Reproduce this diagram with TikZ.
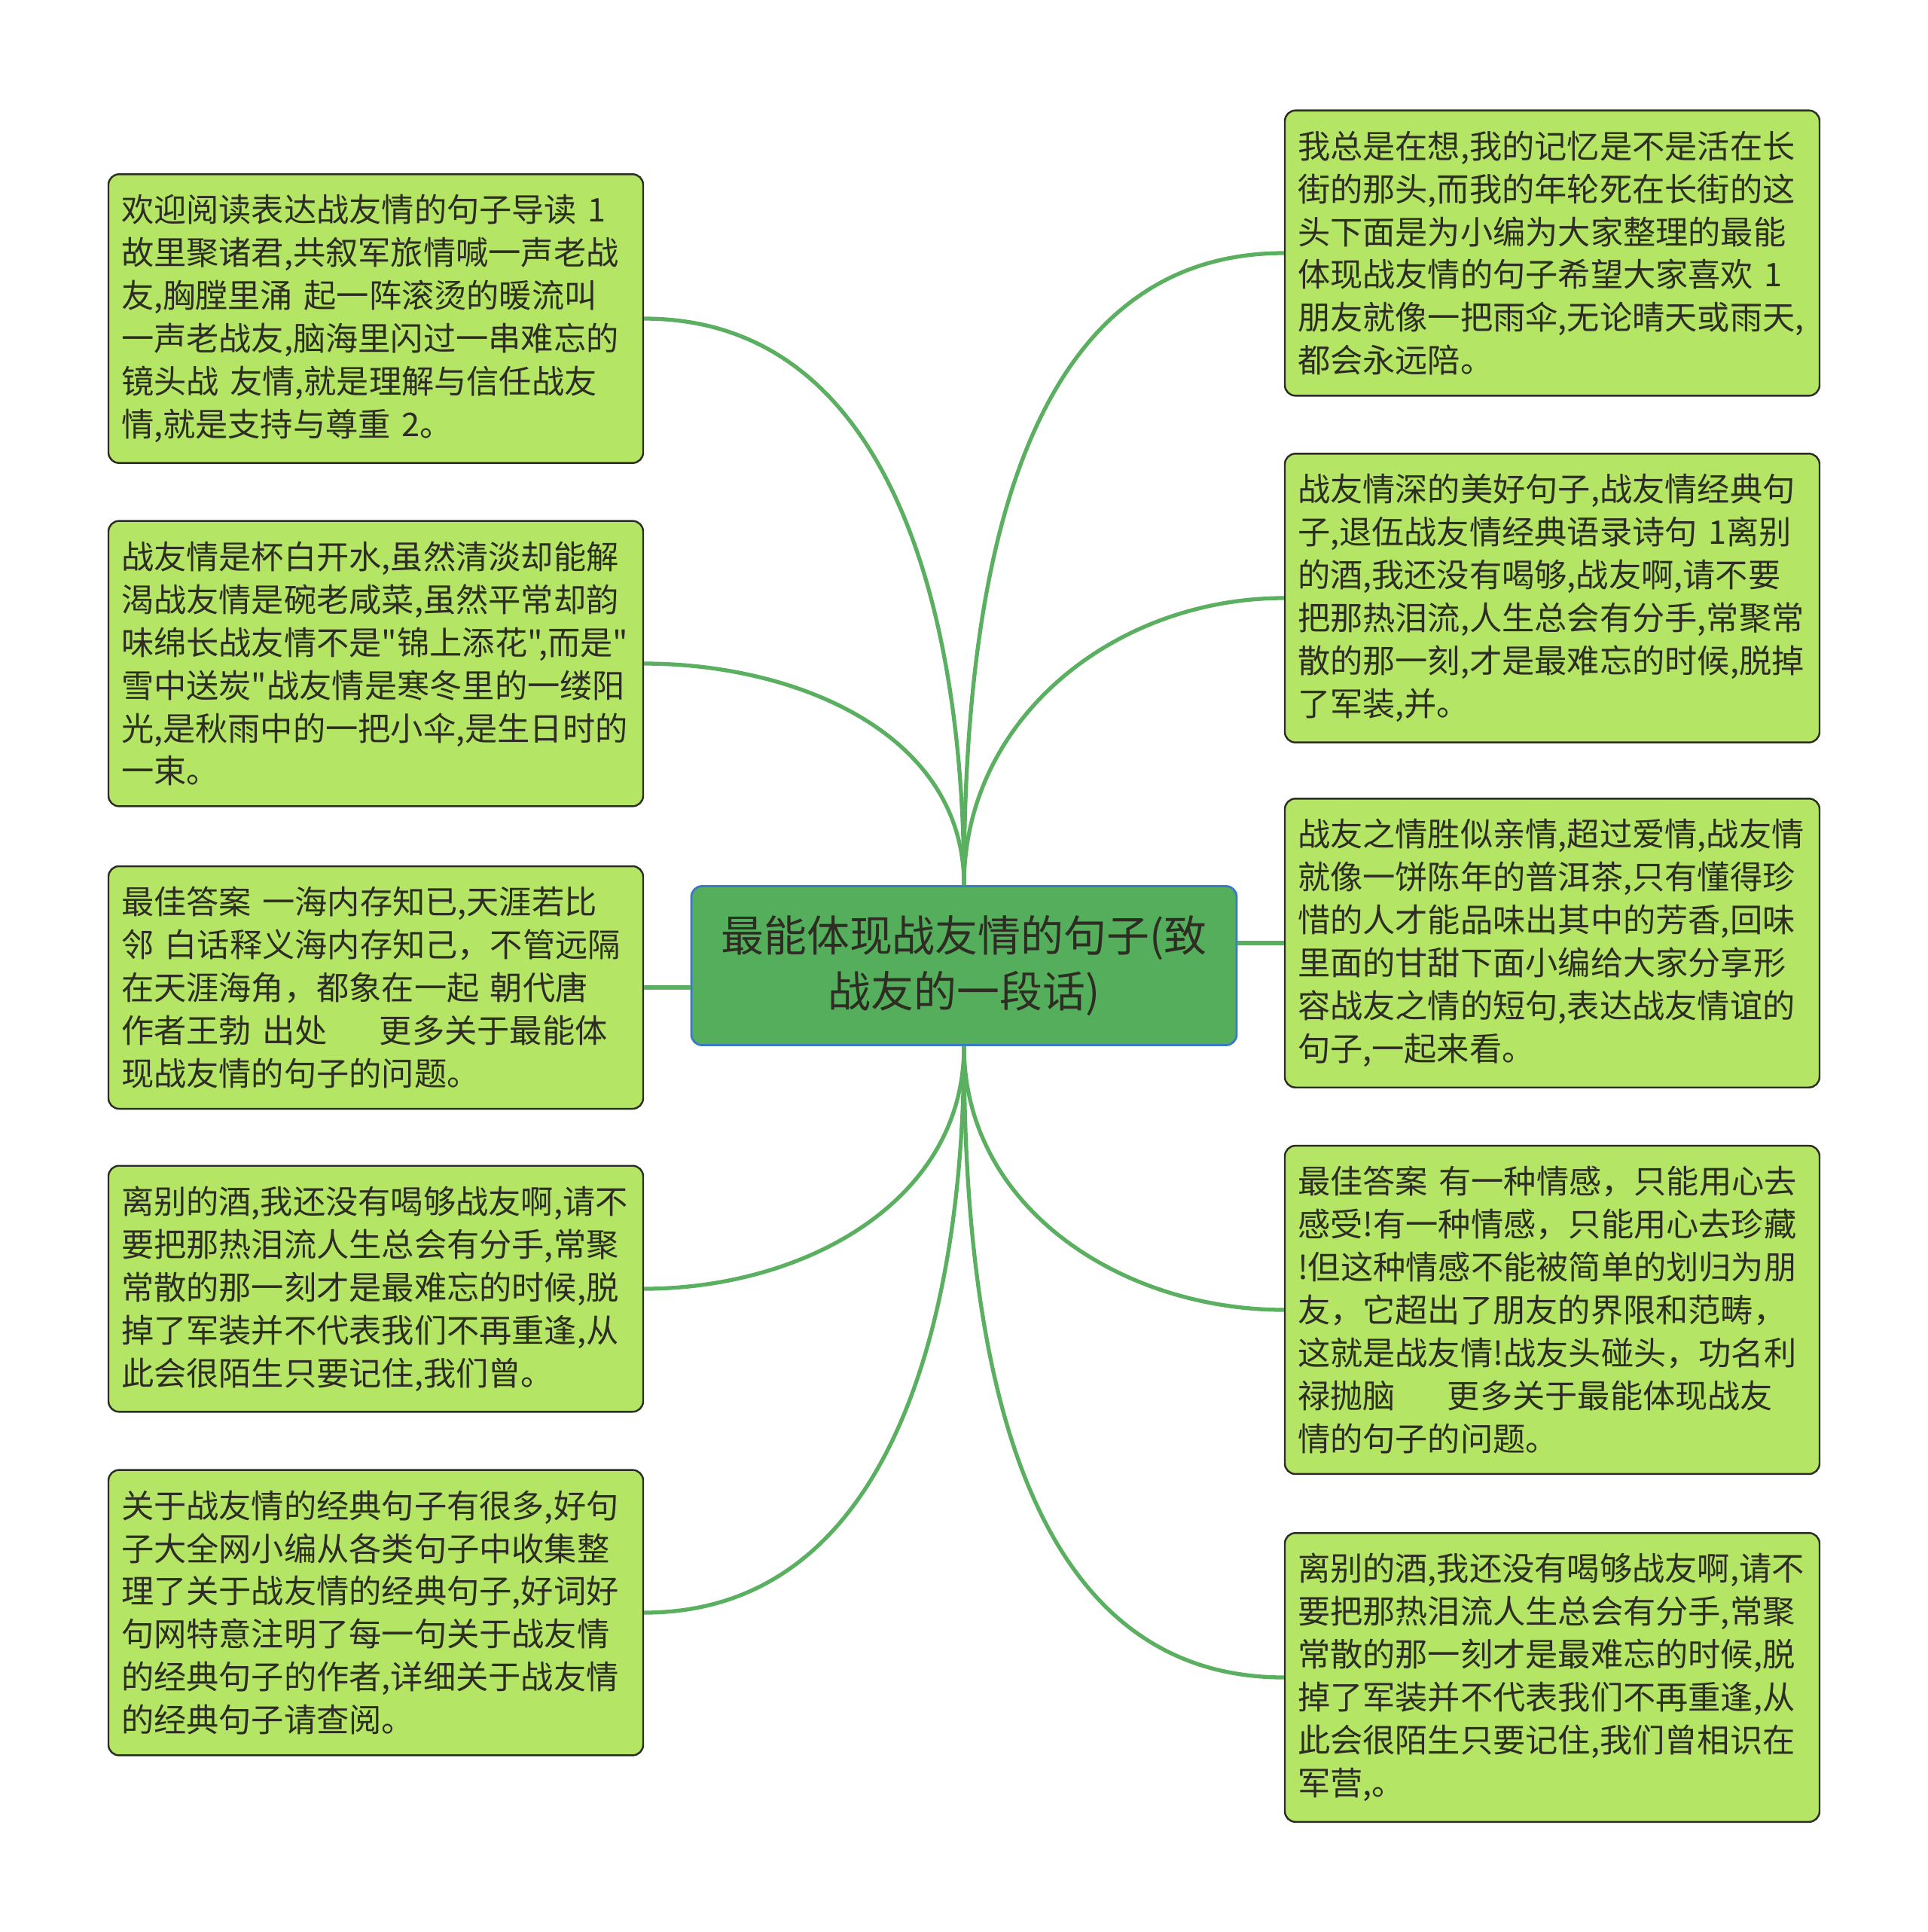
\documentclass[tikz,border=0pt]{standalone}
\usepackage{fontspec}
\newfontfamily\cjk{Noto Sans CJK SC}
\usepackage{xcolor}
\definecolor{mgreen}{RGB}{84,174,92}
\definecolor{mlime}{RGB}{180,229,100}
\definecolor{mline}{RGB}{90,176,96}
\definecolor{medge}{RGB}{60,120,200}
\definecolor{mink}{RGB}{45,45,35}

\begin{document}
\begin{tikzpicture}[
  root/.style={rectangle,rounded corners=4pt,draw=medge,line width=0.8pt,fill=mgreen,
               text=mink,font=\cjk\fontsize{16.2}{21.3}\selectfont,
               minimum width=7.24cm,minimum height=2.11cm,align=center},
  leaf/.style={rectangle,rounded corners=4pt,draw=mink,line width=0.7pt,fill=mlime,
               text=mink,font=\cjk\fontsize{12.3}{16.2}\selectfont,
               text width=6.76cm,inner xsep=0.17cm,inner ysep=0.27cm,align=left},
  link/.style={mline,line width=1.5pt}
]
\useasboundingbox (0,0) rectangle (25.6,-25.65);

\node[root] (root) at (12.80,-12.82) {最能体现战友情的句子(致\\战友的一段话)};

% left side
\node[leaf] (l1) at (4.99,-4.23) {欢迎阅读表达战友情的句子导读 1\\
  故里聚诸君,共叙军旅情喊一声老战\\
  友,胸膛里涌 起一阵滚烫的暖流叫\\
  一声老战友,脑海里闪过一串难忘的\\
  镜头战 友情,就是理解与信任战友\\
  情,就是支持与尊重 2。};
\node[leaf] (l2) at (4.99,-8.81) {战友情是杯白开水,虽然清淡却能解\\
  渴战友情是碗老咸菜,虽然平常却韵\\
  味绵长战友情不是"锦上添花",而是"\\
  雪中送炭"战友情是寒冬里的一缕阳\\
  光,是秋雨中的一把小伞,是生日时的\\
  一束。};
\node[leaf] (l3) at (4.99,-13.11) {最佳答案 一海内存知已,天涯若比\\
  邻 白话释义海内存知己，不管远隔\\
  在天涯海角，都象在一起 朝代唐\\
  作者王勃 出处\hspace{1.6em}更多关于最能体\\
  现战友情的句子的问题。};
\node[leaf] (l4) at (4.99,-17.11) {离别的酒,我还没有喝够战友啊,请不\\
  要把那热泪流人生总会有分手,常聚\\
  常散的那一刻才是最难忘的时候,脱\\
  掉了军装并不代表我们不再重逢,从\\
  此会很陌生只要记住,我们曾。};
\node[leaf] (l5) at (4.99,-21.41) {关于战友情的经典句子有很多,好句\\
  子大全网小编从各类句子中收集整\\
  理了关于战友情的经典句子,好词好\\
  句网特意注明了每一句关于战友情\\
  的经典句子的作者,详细关于战友情\\
  的经典句子请查阅。};

% right side
\node[leaf] (r1) at (20.61,-3.36) {我总是在想,我的记忆是不是活在长\\
  街的那头,而我的年轮死在长街的这\\
  头下面是为小编为大家整理的最能\\
  体现战友情的句子希望大家喜欢 1\\
  朋友就像一把雨伞,无论晴天或雨天,\\
  都会永远陪。};
\node[leaf] (r2) at (20.61,-7.94) {战友情深的美好句子,战友情经典句\\
  子,退伍战友情经典语录诗句 1离别\\
  的酒,我还没有喝够,战友啊,请不要\\
  把那热泪流,人生总会有分手,常聚常\\
  散的那一刻,才是最难忘的时候,脱掉\\
  了军装,并。};
\node[leaf] (r3) at (20.61,-12.52) {战友之情胜似亲情,超过爱情,战友情\\
  就像一饼陈年的普洱茶,只有懂得珍\\
  惜的人才能品味出其中的芳香,回味\\
  里面的甘甜下面小编给大家分享形\\
  容战友之情的短句,表达战友情谊的\\
  句子,一起来看。};
\node[leaf] (r4) at (20.61,-17.39) {最佳答案 有一种情感，只能用心去\\
  感受!有一种情感，只能用心去珍藏\\
  !但这种情感不能被简单的划归为朋\\
  友，它超出了朋友的界限和范畴，\\
  这就是战友情!战友头碰头，功名利\\
  禄抛脑\hspace{1.6em}更多关于最能体现战友\\
  情的句子的问题。};
\node[leaf] (r5) at (20.61,-22.27) {离别的酒,我还没有喝够战友啊,请不\\
  要把那热泪流人生总会有分手,常聚\\
  常散的那一刻才是最难忘的时候,脱\\
  掉了军装并不代表我们不再重逢,从\\
  此会很陌生只要记住,我们曾相识在\\
  军营,。};

% connectors
\begin{scope}[on background layer/.try]
\draw[link] (root.north) to[out=90,in=0] (l1.east);
\draw[link] (root.north) to[out=90,in=0] (l2.east);
\draw[link] (l3.east) -- (l3.east -| root.west);
\draw[link] (root.south) to[out=-90,in=0] (l4.east);
\draw[link] (root.south) to[out=-90,in=0] (l5.east);
\draw[link] (root.north) to[out=90,in=180] (r1.west);
\draw[link] (root.north) to[out=90,in=180] (r2.west);
\draw[link] (r3.west) -- (r3.west -| root.east);
\draw[link] (root.south) to[out=-90,in=180] (r4.west);
\draw[link] (root.south) to[out=-90,in=180] (r5.west);
\end{scope}
\end{tikzpicture}
\end{document}
